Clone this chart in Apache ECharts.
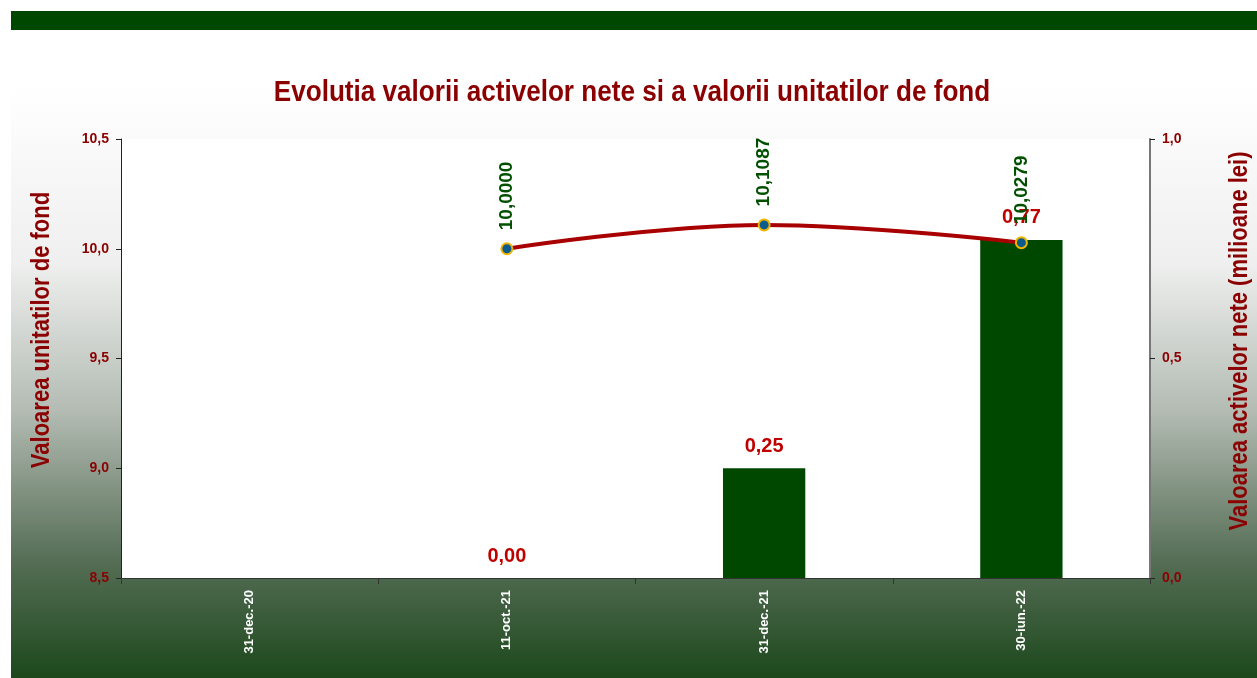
<!DOCTYPE html>
<html>
<head>
<meta charset="utf-8">
<script src="https://cdn.jsdelivr.net/npm/echarts@6/dist/echarts.min.js"></script>
<style>
  html, body { margin: 0; padding: 0; background: #ffffff; overflow: hidden; }
  #chart { width: 1257px; height: 678px; }
</style>
</head>
<body>
<div id="chart"></div>
<script>
// data
const categories = ['31-dec.-20', '11-oct.-21', '31-dec.-21', '30-iun.-22'];
const activeNete = [null, 0.00, 0.25, 0.77];              // milioane lei, right axis
const valoareUnitate = [null, 10.0000, 10.1087, 10.0279]; // left axis
const leftTicks = [8.5, 10.5, 0.5];   // min, max, interval
const rightTicks = [0, 1, 0.5];

const FONT = '"Liberation Sans", Arial, sans-serif';
const RED = '#8b0000';
const fmt = (v, d) => Number(v).toFixed(d).replace('.', ',');

const chart = echarts.init(document.getElementById('chart'));

// narrow-looking text (no Arial Narrow available), drawn as real text with scaleX
function narrowText(txt, x, y, size, rot, sx) {
  return {
    type: 'text', silent: true, z: 10,
    x: x, y: y, rotation: rot, scaleX: sx,
    style: {
      text: txt, x: 0, y: 0, align: 'center', verticalAlign: 'middle',
      fill: RED, font: 'bold ' + size + 'px ' + FONT
    }
  };
}

const option = {
  animation: false,
  backgroundColor: '#ffffff',
  graphic: [
    {
      type: 'rect', z: -10, silent: true,
      shape: { x: 11, y: 11, width: 1246, height: 19 },
      style: { fill: '#004800' }
    },
    {
      type: 'rect', z: -10, silent: true,
      shape: { x: 11, y: 86, width: 1246, height: 592 },
      style: {
        fill: new echarts.graphic.LinearGradient(0, 0, 0, 1, [
          { offset: 0, color: '#ffffff' },
          { offset: 0.3, color: '#eeefee' },
          { offset: 0.55, color: '#b3bbb3' },
          { offset: 0.8, color: '#566e56' },
          { offset: 1, color: '#1c481c' }
        ])
      }
    },
    narrowText('Evolutia valorii activelor nete si a valorii unitatilor de fond', 632, 93, 30, 0, 0.87),
    narrowText('Valoarea unitatilor de fond', 42, 330, 25, Math.PI / 2, 0.88),
    narrowText('Valoarea activelor nete (milioane lei)', 1240, 341, 25, Math.PI / 2, 0.88)
  ],
  grid: {
    left: 121, right: 107, top: 139, bottom: 100,
    outerBoundsMode: 'none',
    containLabel: false,
    show: true, backgroundColor: '#ffffff', borderWidth: 0
  },
  xAxis: {
    type: 'category',
    data: categories,
    axisLine: { lineStyle: { color: '#333333', width: 1 } },
    axisTick: { show: true, alignWithLabel: false, length: 6, lineStyle: { color: '#333333' } },
    axisLabel: {
      rotate: 90, color: '#ffffff', fontWeight: 'bold', fontSize: 13,
      fontFamily: FONT, margin: 12
    }
  },
  yAxis: [
    {
      type: 'value',
      min: leftTicks[0], max: leftTicks[1], interval: leftTicks[2],
      position: 'left',
      axisLine: { show: true, lineStyle: { color: '#222222' } },
      axisTick: { show: true, length: 5, lineStyle: { color: '#222222' } },
      splitLine: { show: false },
      axisLabel: {
        color: RED, fontWeight: 'bold', fontSize: 14, fontFamily: FONT, margin: 12,
        formatter: v => fmt(v, 1)
      }
    },
    {
      type: 'value',
      min: rightTicks[0], max: rightTicks[1], interval: rightTicks[2],
      position: 'right',
      axisLine: { show: true, lineStyle: { color: '#777777', width: 2 } },
      axisTick: { show: true, length: 5, lineStyle: { color: '#222222' } },
      splitLine: { show: false },
      axisLabel: {
        color: RED, fontWeight: 'bold', fontSize: 14, fontFamily: FONT, margin: 12,
        formatter: v => fmt(v, 1)
      }
    }
  ],
  series: [
    {
      name: 'Active nete',
      type: 'bar',
      yAxisIndex: 1,
      data: activeNete,
      barWidth: '32%',
      itemStyle: { color: '#004800' },
      label: {
        show: true, position: 'top', distance: 12,
        color: '#c00000', fontWeight: 'bold', fontSize: 20, fontFamily: FONT,
        formatter: p => fmt(p.value, 2)
      },
      z: 2
    },
    {
      name: 'Valoare unitate',
      type: 'line',
      yAxisIndex: 0,
      data: valoareUnitate,
      smooth: 0.4,
      symbol: 'circle',
      symbolSize: 11,
      lineStyle: { color: '#a80000', width: 4 },
      itemStyle: { color: '#0b5c8c', borderColor: '#f0b400', borderWidth: 2 },
      label: {
        show: true, position: 'top', rotate: 90, distance: 12, align: 'left',
        verticalAlign: 'middle',
        color: '#005000', fontWeight: 'bold', fontSize: 19, fontFamily: FONT,
        formatter: p => fmt(p.value, 4)
      },
      z: 3
    }
  ]
};

chart.setOption(option);
</script>
</body>
</html>
